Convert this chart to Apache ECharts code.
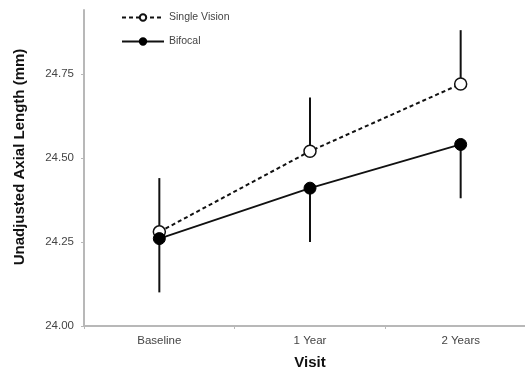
<!DOCTYPE html>
<html><head><meta charset="utf-8">
<script src="https://cdn.jsdelivr.net/npm/echarts@6/dist/echarts.min.js"></script>
<style>html,body{margin:0;padding:0;background:#fff}#c{width:525px;height:368px}</style>
</head><body><div id="c"></div>
<script>
var categories = ['Baseline', '1 Year', '2 Years'];
var singleVision = [24.28, 24.52, 24.72];
var singleVisionUpper = [24.44, 24.68, 24.88];
var bifocal = [24.26, 24.41, 24.54];
var bifocalLower = [24.10, 24.25, 24.38];
var yTicks = [24.00, 24.25, 24.50, 24.75];

function errData(center, end) {
  return center.map(function (v, i) { return [i, v, end[i]]; });
}
function errRender(params, api) {
  var p1 = api.coord([api.value(0), api.value(1)]);
  var p2 = api.coord([api.value(0), api.value(2)]);
  return { type: 'line', shape: { x1: p1[0], y1: p1[1], x2: p2[0], y2: p2[1] },
    style: { stroke: '#111', lineWidth: 2 } };
}
var font = 'Liberation Sans, Arial, sans-serif';
var chart = echarts.init(document.getElementById('c'), null, { renderer: 'canvas' });
chart.setOption({
  animation: false,
  textStyle: { fontFamily: font },
  grid: { left: 84, width: 452, top: 10, bottom: 42, outerBoundsMode: 'none', containLabel: false },
  legend: {
    orient: 'vertical', left: 116, top: 7, itemWidth: 42, itemHeight: 8, itemGap: 13,
    textStyle: { fontSize: 10.5, color: '#444', fontFamily: font },
    data: ['Single Vision', 'Bifocal']
  },
  xAxis: {
    type: 'category', data: categories, boundaryGap: true,
    name: 'Visit', nameLocation: 'middle', nameGap: 29,
    nameTextStyle: { fontSize: 15, fontWeight: 'bold', color: '#111', fontFamily: font },
    axisLine: { lineStyle: { color: '#b8b8b8', width: 2 } },
    axisTick: { show: true, length: 3, lineStyle: { color: '#b8b8b8' } },
    axisLabel: { fontSize: 11.5, color: '#444', margin: 9 }
  },
  yAxis: {
    type: 'value', min: 24, max: 24.94,
    name: 'Unadjusted Axial Length (mm)', nameLocation: 'middle', nameGap: 57,
    nameTextStyle: { fontSize: 15, fontWeight: 'bold', color: '#111', fontFamily: font,
      padding: [0, 0, 0, 22] },
    splitLine: { show: false },
    axisLine: { show: true, lineStyle: { color: '#b8b8b8', width: 2 } },
    axisTick: { show: true, length: 3, customValues: yTicks, lineStyle: { color: '#b8b8b8' } },
    axisLabel: { fontSize: 11.5, color: '#444', margin: 10, customValues: yTicks,
      formatter: function (v) { return v.toFixed(2); } }
  },
  series: [
    { type: 'custom', renderItem: errRender, data: errData(singleVision, singleVisionUpper), z: 1,
      encode: { x: 0, y: [1, 2] } },
    { type: 'custom', renderItem: errRender, data: errData(bifocal, bifocalLower), z: 1,
      encode: { x: 0, y: [1, 2] } },
    { name: 'Single Vision', type: 'line', data: singleVision, z: 3,
      symbol: 'circle', symbolSize: 12,
      lineStyle: { color: '#111', width: 2, type: [4, 3] },
      itemStyle: { color: '#fff', borderColor: '#111', borderWidth: 1.5 } },
    { name: 'Bifocal', type: 'line', data: bifocal, z: 4,
      symbol: 'circle', symbolSize: 12,
      lineStyle: { color: '#111', width: 1.8 },
      itemStyle: { color: '#000', borderColor: '#000', borderWidth: 1 } }
  ]
});
</script></body></html>
